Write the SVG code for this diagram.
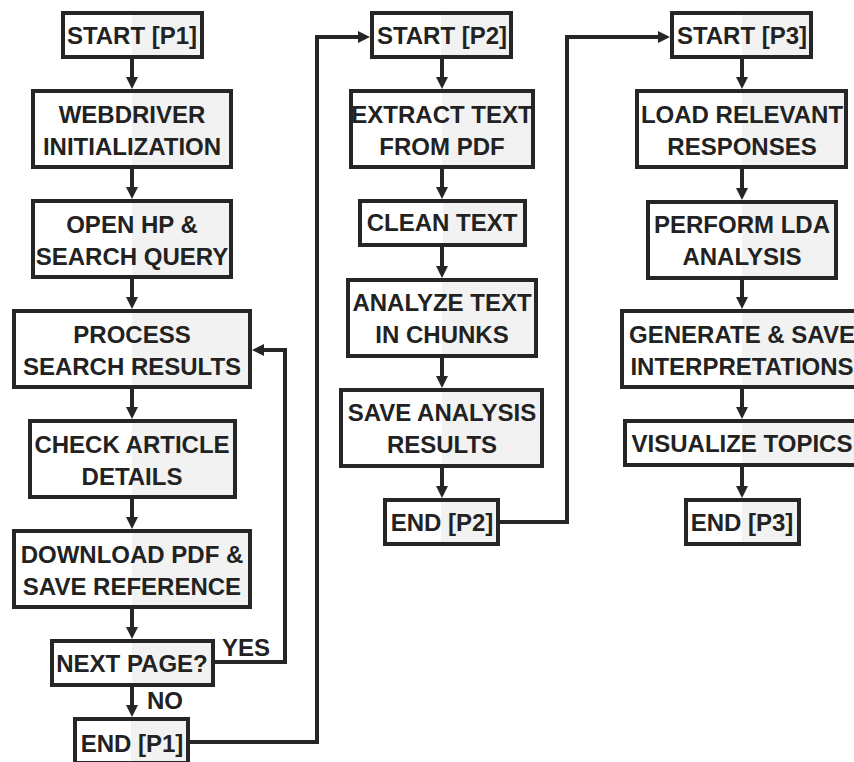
<svg xmlns="http://www.w3.org/2000/svg" width="854" height="762" viewBox="0 0 854 762">
<defs>
<linearGradient id="split" x1="0" y1="0" x2="1" y2="0">
<stop offset="0" stop-color="#ffffff"/><stop offset="0.5" stop-color="#ffffff"/>
<stop offset="0.5" stop-color="#f2f2f2"/><stop offset="1" stop-color="#f2f2f2"/>
</linearGradient>
<marker id="ah" viewBox="0 0 12 12" markerWidth="12" markerHeight="12" refX="1" refY="6" orient="auto" markerUnits="userSpaceOnUse">
<path d="M0,0 L12,6 L0,12 z" fill="#262626"/>
</marker>
</defs>
<style>
.n rect{fill:url(#split);stroke:#262626;stroke-width:4}
text{font-family:"Liberation Sans",Arial,sans-serif;font-weight:bold;font-size:24px;fill:#222;text-anchor:middle}
.lbl{text-anchor:start}
#connectors path{fill:none;stroke:#262626;stroke-width:4;marker-end:url(#ah)}
#connectors path.plain{marker-end:none}
</style>
<rect width="854" height="762" fill="#ffffff"/>
<g id="connectors">
<path d="M132,59 V78"/><path d="M132,169 V188"/><path d="M132,279 V298"/><path d="M132,389 V408"/><path d="M132,499 V518"/><path d="M132,609 V628"/><path d="M132,687 V706"/>
<path d="M215,662 H285 V350 H263"/>
<path d="M190,742 H317 V37 H359"/>
<path d="M442,59 V78"/><path d="M442,167 V188"/><path d="M442,247 V267"/><path d="M442,357 V377"/><path d="M442,467 V487"/>
<path d="M500,522 H567 V37 H659"/>
<path d="M742,59 V78"/><path d="M742,167 V189"/><path d="M742,279 V298"/><path d="M742,388 V408"/><path d="M742,467 V487"/>
<text class="lbl" x="222" y="656">YES</text>
<text class="lbl" x="147" y="709">NO</text>
</g>
<g id="start1" class="n"><rect x="63" y="13" width="139" height="44"/><text x="132" y="44">START [P1]</text></g>
<g id="webdriver" class="n"><rect x="33" y="91" width="198" height="76"/><text x="132" y="123">WEBDRIVER</text><text x="132" y="155">INITIALIZATION</text></g>
<g id="openhp" class="n"><rect x="33" y="201" width="198" height="76"/><text x="132" y="233">OPEN HP &amp;</text><text x="132" y="265">SEARCH QUERY</text></g>
<g id="process" class="n"><rect x="14" y="311" width="236" height="76"/><text x="132" y="343">PROCESS</text><text x="132" y="375">SEARCH RESULTS</text></g>
<g id="check" class="n"><rect x="30" y="421" width="205" height="76"/><text x="132" y="453">CHECK ARTICLE</text><text x="132" y="485">DETAILS</text></g>
<g id="download" class="n"><rect x="14" y="531" width="236" height="76"/><text x="132" y="563">DOWNLOAD PDF &amp;</text><text x="132" y="595">SAVE REFERENCE</text></g>
<g id="nextpage" class="n"><rect x="52" y="641" width="161" height="44"/><text x="132" y="672">NEXT PAGE?</text></g>
<g id="end1" class="n"><rect x="75" y="719" width="113" height="44"/><text x="132" y="752">END [P1]</text></g>
<g id="start2" class="n"><rect x="372" y="13" width="139" height="44"/><text x="442" y="44">START [P2]</text></g>
<g id="extract" class="n"><rect x="351" y="91" width="182" height="76"/><text x="442" y="123">EXTRACT TEXT</text><text x="442" y="155">FROM PDF</text></g>
<g id="clean" class="n"><rect x="360" y="201" width="165" height="44"/><text x="442" y="231">CLEAN TEXT</text></g>
<g id="analyze" class="n"><rect x="348" y="280" width="188" height="76"/><text x="442" y="311">ANALYZE TEXT</text><text x="442" y="343">IN CHUNKS</text></g>
<g id="saveanalysis" class="n"><rect x="341" y="390" width="201" height="76"/><text x="442" y="421">SAVE ANALYSIS</text><text x="442" y="453">RESULTS</text></g>
<g id="end2" class="n"><rect x="385" y="500" width="113" height="44"/><text x="442" y="531">END [P2]</text></g>
<g id="start3" class="n"><rect x="672" y="13" width="139" height="44"/><text x="742" y="44">START [P3]</text></g>
<g id="load" class="n"><rect x="637" y="91" width="209" height="76"/><text x="742" y="123">LOAD RELEVANT</text><text x="742" y="155">RESPONSES</text></g>
<g id="perform" class="n"><rect x="648" y="202" width="188" height="76"/><text x="742" y="233">PERFORM LDA</text><text x="742" y="265">ANALYSIS</text></g>
<g id="generate" class="n"><rect x="622" y="311" width="240" height="76"/><text x="742" y="343">GENERATE &amp; SAVE</text><text x="742" y="375">INTERPRETATIONS</text></g>
<g id="visualize" class="n"><rect x="625" y="421" width="234" height="44"/><text x="742" y="452">VISUALIZE TOPICS</text></g>
<g id="end3" class="n"><rect x="686" y="500" width="113" height="44"/><text x="742" y="531">END [P3]</text></g>
</svg>
